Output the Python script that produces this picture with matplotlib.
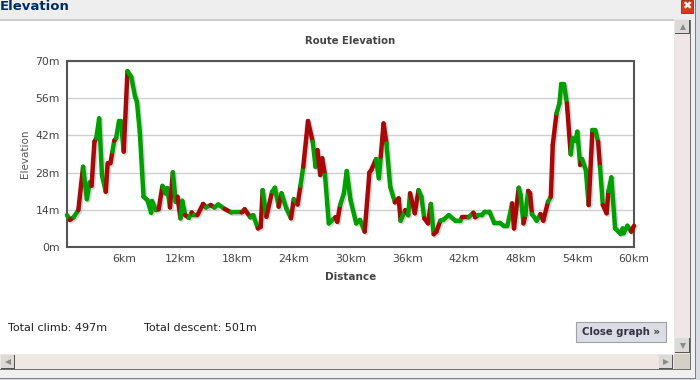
import matplotlib
matplotlib.use('Agg')
import matplotlib.pyplot as plt
from matplotlib.patches import Rectangle

# distance (km), elevation (m), and colour of the stretch that ends at each point
km = [0, 0.3, 0.7, 1.2, 1.7, 2.1, 2.4, 2.6, 2.9, 3.1, 3.4, 3.7, 4.1, 4.3, 4.6, 4.8, 5.0, 5.2, 5.5, 5.7,
      6.0, 6.4, 6.8, 7.2, 7.4, 7.7, 8.1, 8.5, 8.9, 9.0, 9.4, 9.7, 10.1, 10.4, 10.6, 10.9, 11.2, 11.5, 11.7, 12.0,
      12.2, 12.5, 12.9, 13.2, 13.4, 13.8, 14.4, 14.7, 15.2, 15.6, 16.0, 16.7, 17.4, 18.5, 18.8, 19.4, 19.7, 20.2, 20.5, 20.7,
      21.1, 21.7, 22.0, 22.4, 22.7, 23.2, 23.7, 24.0, 24.4, 24.7, 25.0, 25.5, 26.0, 26.3, 26.5, 26.8, 27.0, 27.3, 27.7, 28.4,
      28.6, 28.9, 29.3, 29.6, 30.0, 30.6, 31.0, 31.5, 32.0, 32.2, 32.7, 33.0, 33.2, 33.5, 33.8, 34.2, 34.7, 35.1, 35.3, 35.8,
      36.1, 36.3, 36.8, 37.2, 37.5, 37.8, 38.2, 38.5, 38.8, 39.1, 39.5, 39.8, 40.4, 41.1, 41.6, 41.8, 42.5, 43.0, 43.2, 43.5,
      43.9, 44.2, 44.7, 45.2, 45.8, 46.2, 46.6, 47.1, 47.3, 47.8, 48.0, 48.3, 48.5, 48.8, 49.0, 49.2, 49.7, 50.1, 50.4, 50.9,
      51.2, 51.4, 51.8, 52.1, 52.3, 52.6, 52.9, 53.3, 53.5, 53.8, 54.0, 54.3, 54.5, 54.9, 55.2, 55.6, 55.9, 56.2, 56.4, 56.7,
      57.1, 57.3, 57.6, 58.0, 58.6, 58.8, 58.9, 59.3, 59.7, 60.0]
elev = [12, 10.2, 11.2, 13.9, 30.2, 18, 24.3, 23, 39.6, 41, 48.4, 27, 20.8, 31.5, 31.5, 35.9, 40, 41, 47.4, 47.4,
        35.9, 66.2, 64, 56.6, 54.7, 43.4, 18.9, 17.7, 12.9, 17.3, 13.9, 14.2, 23, 20.2, 22.2, 14.9, 28.1, 17, 18.9, 10.8,
        17.4, 12, 11, 13, 12, 12, 16.2, 14.9, 15.8, 14.9, 16, 14.3, 13, 13, 14.2, 11.2, 12, 7, 7.6, 21.4,
        11.4, 20.8, 22.3, 15.2, 20.2, 14.6, 10.8, 18, 16, 23, 30.2, 47.4, 39.6, 30.2, 36.5, 27.1, 33.4, 27.1, 8.9, 11.2,
        9.5, 15.8, 20.2, 28.6, 17.7, 8.9, 10.2, 5.8, 28, 29, 33.1, 25.9, 34, 46.5, 39, 22.7, 16.8, 18.3, 9.9, 13.9,
        12, 20.2, 12.7, 21.4, 18.9, 10.8, 8.9, 16.2, 4.8, 5.8, 9.9, 10.2, 12, 9.9, 9.8, 11.2, 11.2, 12.9, 11.2, 12,
        12, 13.3, 13.3, 9.1, 9.1, 8, 8, 16.4, 7, 22.3, 19.6, 8.9, 12, 21.1, 20.2, 12.4, 9.9, 12.4, 9.9, 17,
        18.9, 38.4, 50.3, 54, 61.2, 61.2, 54, 34.9, 40.9, 39.9, 43.4, 30.9, 33.1, 29, 15.8, 44, 44, 39.6, 30.2, 15.8,
        12.7, 21.1, 26.2, 7, 4.9, 7, 5.2, 8, 5.8, 8]
grade = ('g g r g r g g g r r g g g r r r g r g g '
         'g r g g g g g g g g g g r g g g r g g r '
         'g g r g r g r r g r g g r g r r g g r r '
         'g r g g r g g r g r g r r g g r r r g g '
         'r r g g g g g g r r r g g r r g g r r g '
         'r g r r g g r r g r r g g g g g r g r r '
         'g g g g g g g g r r g g r g r r g g r r '
         'g r r g g g g r g g g g r g g r g g r g '
         'r r g g g g g g g r').split()
assert len(km) == len(elev) == len(grade)

y_ticks = [0, 14, 28, 42, 56, 70]
x_ticks = [6, 12, 18, 24, 30, 36, 42, 48, 54, 60]

GREEN = '#00a000'
RED = '#a80808'
plt.rcParams['font.family'] = ['DejaVu Sans']

fig = plt.figure(figsize=(7, 3.8), dpi=100, facecolor='#d8dce4')

# window frame, drawn in pixel coordinates
bg = fig.add_axes([0, 0, 1, 1])
bg.set_xlim(0, 700)
bg.set_ylim(380, 0)
bg.axis('off')


def box(x0, y0, x1, y1, color, **kw):
    bg.add_patch(Rectangle((x0, y0), x1 - x0, y1 - y0, facecolor=color, edgecolor=kw.get('ec', 'none'), lw=kw.get('lw', 0)))


def button(x0, y0, x1, y1, marker):
    box(x0, y0, x1, y1, '#dcdad6')
    box(x1 - 1, y0, x1, y1, '#555555')
    box(x0, y1 - 1, x1, y1, '#555555')
    bg.plot((x0 + x1) / 2, (y0 + y1) / 2, marker=marker, ms=5, color='#8a8a8a', mew=0)


box(0, 0, 695, 378, '#f0f0f0')
box(695, 0, 696, 378, '#808080')
box(0, 378, 696, 379, '#808080')
box(0, 0, 691, 369, '#efe6e6')
box(0, 20, 674, 354, 'white')
box(0, 0, 695, 19, '#eeeeee')
box(0, 19, 674, 20.5, '#cccccc')
box(674, 354, 690, 369, '#d4d0c8')
box(690, 20, 691, 370, '#707070')
box(0, 369, 691, 370, '#707070')
button(1, 355, 15, 369, '<')
button(659, 355, 673, 369, '>')
button(675, 338, 690, 353, 'v')
button(675, 20, 690, 34, '^')
box(681, 0, 693, 13, '#d83a20', ec='#a02010', lw=0.6)
bg.text(687, 6.5, '✖', color='white', fontsize=8, ha='center', va='center')
bg.text(0, 7, 'Elevation', color='#002d62', fontsize=9.5, va='center', ha='left', fontweight='semibold')

bg.text(8, 328, 'Total climb: 497m', color='#222222', fontsize=8, va='center')
bg.text(144, 328, 'Total descent: 501m', color='#222222', fontsize=8, va='center')
box(576, 322, 666, 342, '#dcdce4', ec='#a0a0a8', lw=0.8)
bg.text(621, 332, 'Close graph »', color='#333344', fontsize=7.3, fontweight='bold', ha='center', va='center')

# chart
ax = fig.add_axes([67 / 700, 1 - 247 / 380, 567 / 700, 186 / 380])
ax.set_xlim(0, 60)
ax.set_ylim(0, 70)
ax.patch.set_alpha(0)
for s in ax.spines.values():
    s.set_color('#555555')
    s.set_linewidth(1.5)
ax.set_yticks(y_ticks)
ax.set_yticklabels(['%dm' % v for v in y_ticks])
ax.set_xticks(x_ticks)
ax.set_xticklabels(['%dkm' % v for v in x_ticks])
ax.tick_params(length=0, labelsize=7.8, labelcolor='#444444', pad=5)
ax.yaxis.grid(True, color='#cfcfcf', lw=1)
ax.set_axisbelow(True)
ax.set_title('Route Elevation', fontsize=7.3, fontweight='bold', color='#444444', pad=12)
ax.set_xlabel('Distance', fontsize=7.5, fontweight='bold', color='#444444', labelpad=6)
ax.set_ylabel('Elevation', fontsize=7.5, color='#555555', labelpad=4)

# soft shadow, then the coloured stretches
ax.plot([k + 0.15 for k in km], [e - 0.5 for e in elev], color='#aaaaaa', alpha=0.5, lw=3.4, clip_on=False, zorder=2)
for i in range(1, len(km)):
    ax.plot(km[i - 1:i + 1], elev[i - 1:i + 1], color=GREEN if grade[i] == 'g' else RED,
            lw=3.2, solid_capstyle='round', clip_on=False, zorder=3)

fig.savefig('out.png', dpi=100, facecolor=fig.get_facecolor())
